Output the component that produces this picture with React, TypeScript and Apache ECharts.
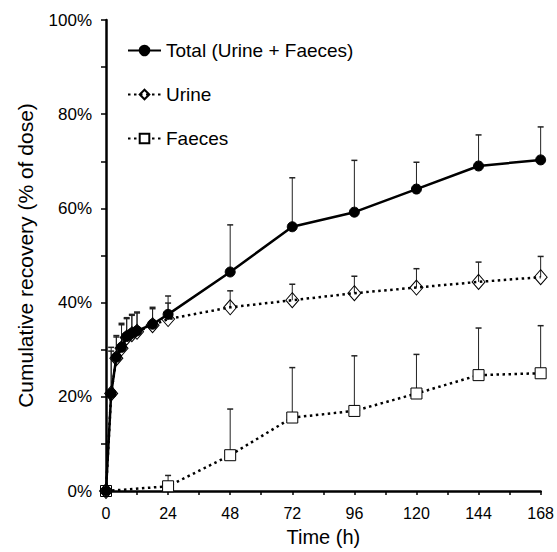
import React, { useEffect, useRef } from "react";
import * as echarts from "echarts";

const times = [0, 2, 4, 6, 8, 10, 12, 18, 24, 48, 72, 96, 120, 144, 168];
const total = [0, 20.7, 28.4, 30.5, 32.8, 33.5, 34, 35.4, 37.5, 46.5, 56.1, 59.2, 64.1, 69, 70.3];
const totalErr = [0, 9.8, 4.6, 5.1, 4, 4, 4, 3.6, 3.9, 10, 10.4, 11, 5.7, 6.6, 7];
const urine = [0, 20.7, 28.2, 30.3, 32.6, 33.3, 33.8, 35.2, 36.5, 39, 40.5, 42, 43.2, 44.4, 45.4];
const urineErr = [0, 9, 4.5, 5, 4, 4, 4, 3.5, 3.4, 3.5, 3.4, 3.6, 4, 4.2, 4.4];
const faecesTimes = [0, 24, 48, 72, 96, 120, 144, 168];
const faeces = [0, 1, 7.6, 15.6, 17, 20.7, 24.6, 25];
const faecesErr = [0, 2.3, 9.8, 10.6, 11.7, 8.3, 10, 10.1];
const xTicks = [0, 24, 48, 72, 96, 120, 144, 168];
const yTicks = [0, 20, 40, 60, 80, 100];

const FONT = "'Liberation Sans', Arial, sans-serif";

function errSeries(xs: number[], ys: number[], es: number[]) {
  return {
    type: "custom",
    z: 1,
    silent: true,
    data: xs.map((x, i) => [x, ys[i], es[i]]),
    encode: { x: 0, y: 1 },
    renderItem: (params: any, api: any) => {
      const x = api.value(0);
      const y = api.value(1);
      const e = api.value(2);
      if (!e) return { type: "group", children: [] };
      const p0 = api.coord([x, y]);
      const p1 = api.coord([x, y + e]);
      return {
        type: "group",
        children: [
          {
            type: "line",
            shape: { x1: p0[0], y1: p0[1], x2: p1[0], y2: p1[1] },
            style: { stroke: "#222", lineWidth: 1 },
          },
          {
            type: "line",
            shape: { x1: p1[0] - 3, y1: p1[1], x2: p1[0] + 3, y2: p1[1] },
            style: { stroke: "#222", lineWidth: 1.5 },
          },
        ],
      };
    },
  };
}

export default function App() {
  const ref = useRef<HTMLDivElement>(null);
  useEffect(() => {
    document.body.style.margin = "0";
    document.body.style.overflow = "hidden";
    const chart = echarts.init(ref.current!, null, { renderer: "svg" });
    chart.setOption({
      animation: false,
      backgroundColor: "#fff",
      textStyle: { fontFamily: FONT },
      grid: { left: 106, right: 14, top: 20, bottom: 57 },
      legend: {
        orient: "vertical",
        left: 122,
        top: 36,
        itemGap: 25,
        itemWidth: 33,
        itemHeight: 12,
        data: ["Total (Urine + Faeces)", "Urine", "Faeces"],
        textStyle: { fontSize: 19, color: "#000", fontFamily: FONT, padding: [0, 0, 0, 0] },
      },
      xAxis: {
        type: "value",
        min: 0,
        max: 168,
        interval: 24,
        name: "Time (h)",
        nameLocation: "middle",
        nameGap: 36,
        nameTextStyle: { fontSize: 20, color: "#000", fontFamily: FONT },
        axisLine: { lineStyle: { color: "#000", width: 2.5 } },
        axisTick: { length: 4, lineStyle: { color: "#000", width: 1.5 } },
        minorTick: { show: true, splitNumber: 2, length: 4, lineStyle: { color: "#000", width: 1.5 } },
        axisLabel: {
          fontSize: 16,
          color: "#000",
          fontFamily: FONT,
          margin: 14,
          formatter: (v: number) => (xTicks.includes(v) ? String(v) : ""),
        },
        splitLine: { show: false },
      },
      yAxis: {
        type: "value",
        min: 0,
        max: 100,
        interval: 20,
        name: "Cumulative recovery (% of dose)",
        nameLocation: "middle",
        nameGap: 70,
        nameTextStyle: { fontSize: 21, color: "#000", fontFamily: FONT },
        axisLine: { show: true, lineStyle: { color: "#000", width: 2.5 } },
        axisTick: { show: true, length: 5, lineStyle: { color: "#000", width: 1.5 } },
        minorTick: { show: true, splitNumber: 2, length: 5, lineStyle: { color: "#000", width: 1.5 } },
        axisLabel: {
          fontSize: 17,
          color: "#000",
          fontFamily: FONT,
          margin: 14,
          formatter: (v: number) => (yTicks.includes(v) ? v + "%" : ""),
        },
        splitLine: { show: false },
      },
      series: [
        errSeries(faecesTimes, faeces, faecesErr),
        errSeries(times, urine, urineErr),
        errSeries(times, total, totalErr),
        {
          name: "Faeces",
          type: "line",
          z: 3,
          data: faecesTimes.map((t, i) => [t, faeces[i]]),
          symbol: "rect",
          symbolSize: 11,
          lineStyle: { color: "#000", width: 2.5, type: [2.5, 3.5] },
          itemStyle: { color: "#fff", borderColor: "#000", borderWidth: 1 },
        },
        {
          name: "Urine",
          type: "line",
          z: 4,
          data: times.map((t, i) => [t, urine[i]]),
          symbol: "diamond",
          symbolSize: [13, 15],
          lineStyle: { color: "#000", width: 2.5, type: [2.5, 3.5] },
          itemStyle: { color: "rgba(255,255,255,0)", borderColor: "#000", borderWidth: 1 },
        },
        {
          name: "Total (Urine + Faeces)",
          type: "line",
          z: 5,
          data: times.map((t, i) => [t, total[i]]),
          symbol: "circle",
          symbolSize: 10,
          lineStyle: { color: "#000", width: 2.5 },
          itemStyle: { color: "#000", borderColor: "#000", borderWidth: 1 },
        },
      ],
    });
    return () => chart.dispose();
  }, []);
  return (
    <div
      ref={ref}
      style={{ position: "fixed", left: 0, top: 0, width: 557, height: 552 }}
    />
  );
}
